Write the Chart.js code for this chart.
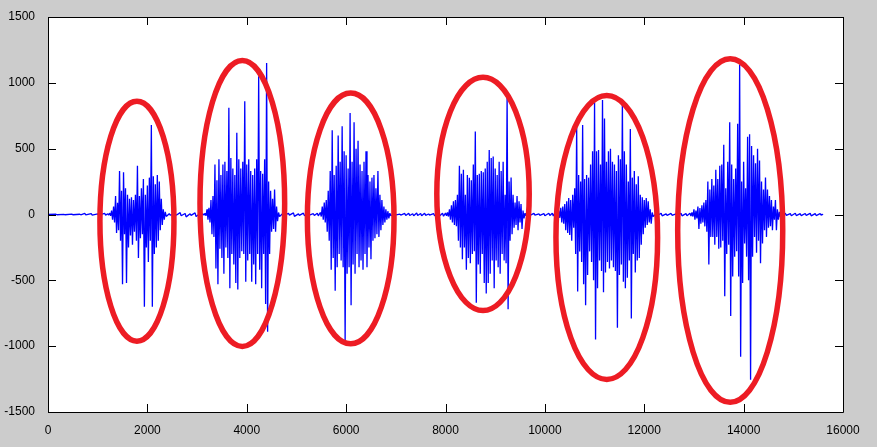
<!DOCTYPE html>
<html>
<head>
<meta charset="utf-8">
<script src="https://cdn.jsdelivr.net/npm/chart.js@4.4.1/dist/chart.umd.min.js"></script>
<style>
html,body{margin:0;padding:0;background:#cccccc;}
#c{display:block;}
</style>
</head>
<body>
<canvas id="c" width="877" height="447"></canvas>
<script>
// x tick labels and y tick labels
const xTicks = [0, 2000, 4000, 6000, 8000, 10000, 12000, 14000, 16000];
const yTicks = [-1500, -1000, -500, 0, 500, 1000, 1500];

// waveform read as [sample index, local max, local min]
const quiet0 = [[0,0,0],[160,2,-2],[320,1,-2],[480,3,-2],[640,2,-2],[740,8,-3],[870,7,-4],[1000,4,-5],[1140,9,-6],[1200,5,-4]];
const burst1 = [[1240,10,-10],[1280,30,-40],[1320,60,-60],[1360,140,-140],[1400,90,-120],[1440,330,-200],[1480,180,-530],[1520,320,-150],[1560,200,-520],[1600,150,-250],[1640,120,-160],[1680,130,-230],[1720,110,-130],[1760,150,-200],[1800,370,-330],[1840,140,-180],[1880,200,-150],[1920,270,-700],[1960,150,-250],[2000,220,-360],[2040,280,-200],[2080,680,-700],[2120,290,-300],[2160,230,-250],[2200,300,-200],[2240,250,-120],[2280,120,-80],[2320,40,-40],[2360,20,-15]];
const quiet1 = [[2440,6,-5],[2560,4,-6],[2660,14,-10],[2760,8,-18],[2860,6,-7],[2960,12,-16],[3060,7,-8],[3120,5,-5]];
const burst2 = [[3160,10,-10],[3200,40,-40],[3240,50,-60],[3280,110,-150],[3320,140,-170],[3360,380,-410],[3400,260,-530],[3440,420,-260],[3480,300,-330],[3520,380,-450],[3560,400,-250],[3600,330,-330],[3640,810,-560],[3680,430,-300],[3720,350,-380],[3760,300,-520],[3800,620,-570],[3840,420,-330],[3880,350,-280],[3920,400,-300],[3960,860,-510],[4000,380,-350],[4040,420,-300],[4080,330,-510],[4120,300,-380],[4160,350,-530],[4200,420,-300],[4240,1050,-420],[4280,330,-560],[4320,310,-300],[4360,420,-680],[4400,1150,-890],[4440,250,-300],[4480,180,-130],[4520,120,-110],[4560,190,-130],[4600,60,-50],[4640,15,-15]];
const quiet2 = [[4720,6,-8],[4840,8,-5],[4940,12,-14],[5040,5,-7],[5140,10,-8],[5240,4,-5],[5340,6,-7],[5420,9,-10]];
const burst3 = [[5480,15,-15],[5520,60,-40],[5560,90,-60],[5600,110,-130],[5640,180,-200],[5680,330,-420],[5720,640,-330],[5760,300,-580],[5800,370,-400],[5840,600,-300],[5880,400,-350],[5920,670,-400],[5960,480,-960],[6000,450,-450],[6040,350,-400],[6080,770,-690],[6120,400,-380],[6160,700,-450],[6200,500,-300],[6240,560,-400],[6280,380,-350],[6320,330,-420],[6360,400,-300],[6400,480,-400],[6440,300,-250],[6480,250,-340],[6520,280,-200],[6560,300,-180],[6600,200,-150],[6640,330,-170],[6680,150,-120],[6720,110,-80],[6760,60,-60],[6800,40,-40],[6840,25,-30],[6880,10,-10]];
const quiet3 = [[6960,4,-5],[7080,3,-4],[7180,8,-7],[7260,10,-8],[7340,6,-9],[7420,11,-7],[7500,8,-10],[7580,9,-6],[7660,4,-4],[7760,7,-9],[7860,10,-12],[7940,9,-13],[8000,11,-10]];
const burst4 = [[8040,15,-15],[8080,40,-40],[8120,70,-60],[8160,100,-80],[8200,110,-90],[8240,150,-200],[8280,370,-250],[8320,310,-340],[8360,340,-250],[8400,150,-420],[8440,300,-330],[8480,280,-370],[8520,260,-300],[8560,380,-280],[8600,630,-670],[8640,300,-380],[8680,310,-450],[8720,330,-300],[8760,320,-520],[8800,350,-600],[8840,400,-520],[8880,490,-450],[8920,430,-350],[8960,440,-560],[9000,350,-350],[9040,300,-400],[9080,400,-450],[9120,330,-300],[9160,400,-350],[9200,150,-370],[9240,910,-720],[9280,250,-200],[9320,280,-150],[9360,150,-100],[9400,90,-80],[9440,140,-120],[9480,100,-60],[9520,80,-110],[9560,30,-30],[9600,10,-10]];
const quiet4 = [[9680,5,-7],[9780,9,-5],[9880,4,-6],[9980,7,-10],[10080,9,-8],[10150,10,-11]];
const burst5 = [[10200,10,-10],[10240,25,-30],[10280,30,-25],[10320,50,-60],[10360,60,-70],[10400,80,-120],[10440,100,-140],[10480,125,-155],[10520,110,-200],[10560,150,-100],[10600,200,-300],[10640,660,-585],[10680,300,-280],[10720,250,-360],[10760,680,-530],[10800,270,-690],[10840,300,-460],[10880,280,-280],[10920,380,-360],[10960,480,-500],[11000,850,-950],[11040,480,-560],[11080,490,-350],[11120,380,-430],[11160,870,-590],[11200,730,-440],[11240,400,-360],[11280,480,-410],[11320,500,-350],[11360,400,-400],[11400,380,-430],[11440,330,-860],[11480,450,-460],[11520,420,-380],[11560,850,-510],[11600,480,-560],[11640,380,-480],[11680,250,-350],[11720,650,-790],[11760,280,-300],[11800,330,-440],[11840,230,-350],[11880,290,-330],[11920,150,-230],[11960,130,-150],[12000,110,-100],[12040,125,-80],[12080,100,-60],[12120,40,-70],[12160,15,-15]];
const quiet5 = [[12240,6,-8],[12340,9,-10],[12440,5,-7],[12540,8,-6],[12640,4,-8],[12740,9,-10],[12840,7,-9],[12920,10,-11]];
const burst6 = [[12960,15,-15],[13000,40,-40],[13040,30,-30],[13080,60,-110],[13120,50,-70],[13160,70,-60],[13200,90,-90],[13240,110,-130],[13280,250,-380],[13320,190,-170],[13360,270,-170],[13400,220,-230],[13440,340,-170],[13480,270,-260],[13520,370,-250],[13560,380,-200],[13600,530,-620],[13640,200,-300],[13680,400,-230],[13720,700,-770],[13760,380,-470],[13800,270,-320],[13840,350,-280],[13880,690,-470],[13920,1140,-1080],[13960,250,-520],[14000,400,-220],[14040,200,-320],[14080,590,-500],[14120,610,-1255],[14160,520,-320],[14200,450,-170],[14240,390,-290],[14280,500,-200],[14320,410,-370],[14360,250,-220],[14400,190,-120],[14440,280,-170],[14480,190,-100],[14520,140,-90],[14560,110,-120],[14600,60,-40],[14640,110,-120],[14680,40,-40],[14720,20,-20],[14760,10,-10]];
const quiet6 = [[14840,9,-7],[14940,7,-9],[15040,10,-8],[15140,6,-9],[15240,8,-7],[15340,9,-10],[15440,7,-8],[15540,6,-5],[15580,2,-2]];

// annotation ellipses in data units
const ringCenterX = [1790, 3911, 6092, 8755, 11246, 13730];
const ringCenterY = [-51, 84, -30, 156, -175, -122];
const ringRadiusX = [745, 852, 872, 930, 1023, 1057];
const ringRadiusY = [911, 1086, 952, 886, 1078, 1304];

const segments = [quiet0, burst1, quiet1, burst2, quiet2, burst3, quiet3, burst4, quiet4, burst5, quiet5, burst6, quiet6];
const points = [];
segments.forEach(seg => seg.forEach(([s, hi, lo]) => {
  points.push({x: s, y: hi});
  points.push({x: s + 20, y: lo});
}));

const FONT = {family: '"Liberation Sans", Arial, sans-serif', size: 12};

const bgPlugin = {
  id: 'bg',
  beforeDraw(chart) {
    const {ctx, chartArea: a} = chart;
    ctx.save();
    ctx.fillStyle = '#cccccc';
    ctx.fillRect(0, 0, chart.width, chart.height);
    ctx.fillStyle = '#ffffff';
    ctx.fillRect(a.left, a.top, a.right - a.left, a.bottom - a.top);
    ctx.restore();
  }
};

const ringPlugin = {
  id: 'rings',
  afterDatasetsDraw(chart) {
    const {ctx} = chart;
    const xs = chart.scales.x, ys = chart.scales.y;
    ctx.save();
    ctx.strokeStyle = '#ed1c24';
    ctx.lineWidth = 5.5;
    for (let i = 0; i < ringCenterX.length; i++) {
      const cx = xs.getPixelForValue(ringCenterX[i]);
      const cy = ys.getPixelForValue(ringCenterY[i]);
      const rx = Math.abs(xs.getPixelForValue(ringCenterX[i] + ringRadiusX[i]) - cx);
      const ry = Math.abs(ys.getPixelForValue(ringCenterY[i] + ringRadiusY[i]) - cy);
      ctx.beginPath();
      ctx.ellipse(cx, cy, rx, ry, 0, 0, Math.PI * 2);
      ctx.stroke();
    }
    ctx.restore();
  }
};

const boxPlugin = {
  id: 'box',
  afterDraw(chart) {
    const {ctx, chartArea: a} = chart;
    const xs = chart.scales.x, ys = chart.scales.y;
    const TL = 8;
    ctx.save();
    ctx.strokeStyle = '#000000';
    ctx.lineWidth = 1;
    ctx.beginPath();
    ctx.rect(Math.round(a.left) + 0.5, Math.round(a.top) + 0.5, Math.round(a.right - a.left), Math.round(a.bottom - a.top));
    ctx.stroke();
    ctx.beginPath();
    xTicks.forEach(v => {
      const p = Math.round(xs.getPixelForValue(v)) + 0.5;
      ctx.moveTo(p, a.bottom); ctx.lineTo(p, a.bottom - TL);
      ctx.moveTo(p, a.top); ctx.lineTo(p, a.top + TL);
    });
    yTicks.forEach(v => {
      const p = Math.round(ys.getPixelForValue(v)) + 0.5;
      ctx.moveTo(a.left, p); ctx.lineTo(a.left + TL, p);
      ctx.moveTo(a.right, p); ctx.lineTo(a.right - TL, p);
    });
    ctx.stroke();
    ctx.restore();
  }
};

new Chart(document.getElementById('c'), {
  type: 'scatter',
  data: {
    datasets: [{
      data: points,
      showLine: true,
      borderColor: '#0000ff',
      borderWidth: 1.3,
      borderJoinStyle: 'bevel',
      pointRadius: 0,
      pointHoverRadius: 0,
      tension: 0,
      fill: false
    }]
  },
  options: {
    responsive: false,
    animation: false,
    events: [],
    layout: {padding: {left: 0, right: 34, top: 17, bottom: 0}},
    plugins: {legend: {display: false}, tooltip: {enabled: false}, title: {display: false}},
    scales: {
      x: {
        type: 'linear', min: 0, max: 16000,
        afterBuildTicks: s => { s.ticks = xTicks.map(v => ({value: v})); },
        afterFit: s => { s.height = 35; },
        grid: {display: false},
        border: {display: false},
        ticks: {font: FONT, color: '#000000', padding: 3, maxRotation: 0, autoSkip: false, callback: v => String(v)}
      },
      y: {
        type: 'linear', min: -1500, max: 1500,
        afterBuildTicks: s => { s.ticks = yTicks.map(v => ({value: v})); },
        afterFit: s => { s.width = 48; },
        grid: {display: false},
        border: {display: false},
        ticks: {font: FONT, color: '#000000', padding: 5, autoSkip: false, callback: v => String(v)}
      }
    }
  },
  plugins: [bgPlugin, ringPlugin, boxPlugin]
});
</script>
</body>
</html>
